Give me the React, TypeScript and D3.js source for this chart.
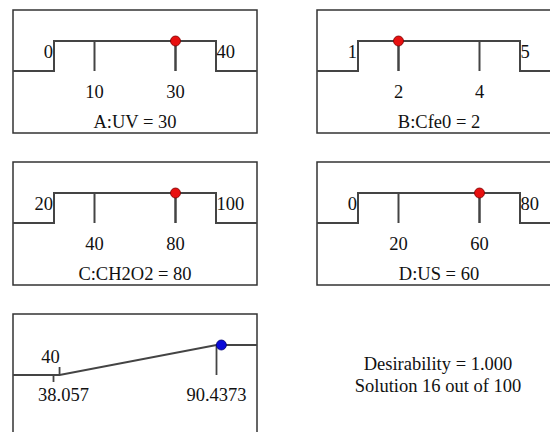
import React from "react"
import * as d3 from "d3"

// factors (ramps) shown in the first two rows
const factorNames = ["A:UV", "B:Cfe0", "C:CH2O2", "D:US"]
const factorMins = [0, 1, 20, 0]
const factorMaxs = [40, 5, 100, 80]
const factorTicks = [
  [10, 30],
  [2, 4],
  [40, 80],
  [20, 60],
]
const factorValues = [30, 2, 80, 60]

// response ramp (bottom-left)
const responseMin = 38.057
const responseMax = 90.4373
const responseLowLimit = 40
const responsePredicted = 92.0

const desirability = 1.0
const solutionNo = 16
const solutionCount = 100

const W = 550,
  H = 432
const panelW = 244,
  panelH = 123
const colX = [13, 317]
const rowY = [10, 162, 314]
const hiY = 31,
  loY = 61
const fs = 18.5
const font = "'Liberation Serif', 'Times New Roman', serif"
const lineCol = "#444"
const textCol = "#111"

function FactorPanel({ i, left, top }) {
  const x = d3.scaleLinear().domain([factorMins[i], factorMaxs[i]]).range([41, 203])
  const x0 = x(factorMins[i]),
    x1 = x(factorMaxs[i])
  const path = d3.path()
  path.moveTo(0, loY)
  path.lineTo(x0, loY)
  path.lineTo(x0, hiY)
  path.lineTo(x1, hiY)
  path.lineTo(x1, loY)
  path.lineTo(panelW, loY)
  return (
    <g transform={`translate(${left},${top})`}>
      <rect width={panelW} height={panelH} fill="white" stroke="#333" strokeWidth={1.5} />
      <path d={path.toString()} fill="none" stroke={lineCol} strokeWidth={2} />
      {factorTicks[i].map(t => (
        <g key={t}>
          <line x1={x(t)} x2={x(t)} y1={hiY} y2={loY} stroke={lineCol} strokeWidth={2} />
          <text x={x(t)} y={88} textAnchor="middle" fontSize={fs} fill={textCol}>
            {t}
          </text>
        </g>
      ))}
      <line x1={x(factorValues[i])} x2={x(factorValues[i])} y1={hiY} y2={loY} stroke={lineCol} strokeWidth={2} />
      <text x={x0 - 1} y={48} textAnchor="end" fontSize={fs} fill={textCol}>
        {factorMins[i]}
      </text>
      <text x={x1 + 0.5} y={48} fontSize={fs} fill={textCol}>
        {factorMaxs[i]}
      </text>
      <circle cx={x(factorValues[i])} cy={hiY} r={5} fill="#e81010" stroke="#7a0000" strokeWidth={0.8} />
      <text x={panelW / 2} y={118} textAnchor="middle" fontSize={fs} fill={textCol}>
        {`${factorNames[i]} = ${factorValues[i]}`}
      </text>
    </g>
  )
}

function ResponsePanel({ left, top }) {
  const x = d3.scaleLinear().domain([responseMin, responseMax]).range([40.5, 203.5])
  const y = d3.scaleLinear().domain([0, 1]).range([loY, hiY])
  const line = d3
    .line<[number, number]>()
    .x(d => x(d[0]))
    .y(d => y(d[1]))
  const ramp: [number, number][] = [
    [x.invert(0), 0],
    [responseLowLimit, 0],
    [responseMax, 1],
    [x.invert(panelW), 1],
  ]
  return (
    <g transform={`translate(${left},${top})`}>
      <rect width={panelW} height={panelH + 10} fill="white" stroke="#333" strokeWidth={1.5} />
      <path d={line(ramp)} fill="none" stroke={lineCol} strokeWidth={1.8} />
      <line x1={x(responseLowLimit)} x2={x(responseLowLimit)} y1={loY - 8} y2={loY} stroke={lineCol} strokeWidth={1.8} />
      <line x1={x(responseMin)} x2={x(responseMin)} y1={loY} y2={loY + 7} stroke={lineCol} strokeWidth={1.8} />
      <line x1={x(responseMax)} x2={x(responseMax)} y1={hiY} y2={loY} stroke={lineCol} strokeWidth={1.8} />
      <text x={x(responseLowLimit) - 9} y={49} textAnchor="middle" fontSize={fs} fill={textCol}>
        {responseLowLimit}
      </text>
      <text x={x(responseMin) + 10} y={87} textAnchor="middle" fontSize={fs} fill={textCol}>
        {responseMin}
      </text>
      <text x={x(responseMax)} y={87} textAnchor="middle" fontSize={fs} fill={textCol}>
        {responseMax}
      </text>
      <circle cx={x(responsePredicted)} cy={y(1)} r={5} fill="#0a0ad8" stroke="#000070" strokeWidth={0.8} />
    </g>
  )
}

export default function App() {
  return (
    <div style={{ position: "absolute", left: 0, top: 0 }}>
      <svg width={W} height={H} style={{ display: "block", fontFamily: font, background: "white" }}>
        {factorNames.map((n, i) => (
          <FactorPanel key={n} i={i} left={colX[i % 2]} top={rowY[Math.floor(i / 2)]} />
        ))}
        <ResponsePanel left={colX[0]} top={rowY[2]} />
        <text x={438} y={370} textAnchor="middle" fontSize={fs} fill={textCol}>
          {`Desirability = ${desirability.toFixed(3)}`}
        </text>
        <text x={438} y={392} textAnchor="middle" fontSize={fs} fill={textCol}>
          {`Solution ${solutionNo} out of ${solutionCount}`}
        </text>
      </svg>
    </div>
  )
}
